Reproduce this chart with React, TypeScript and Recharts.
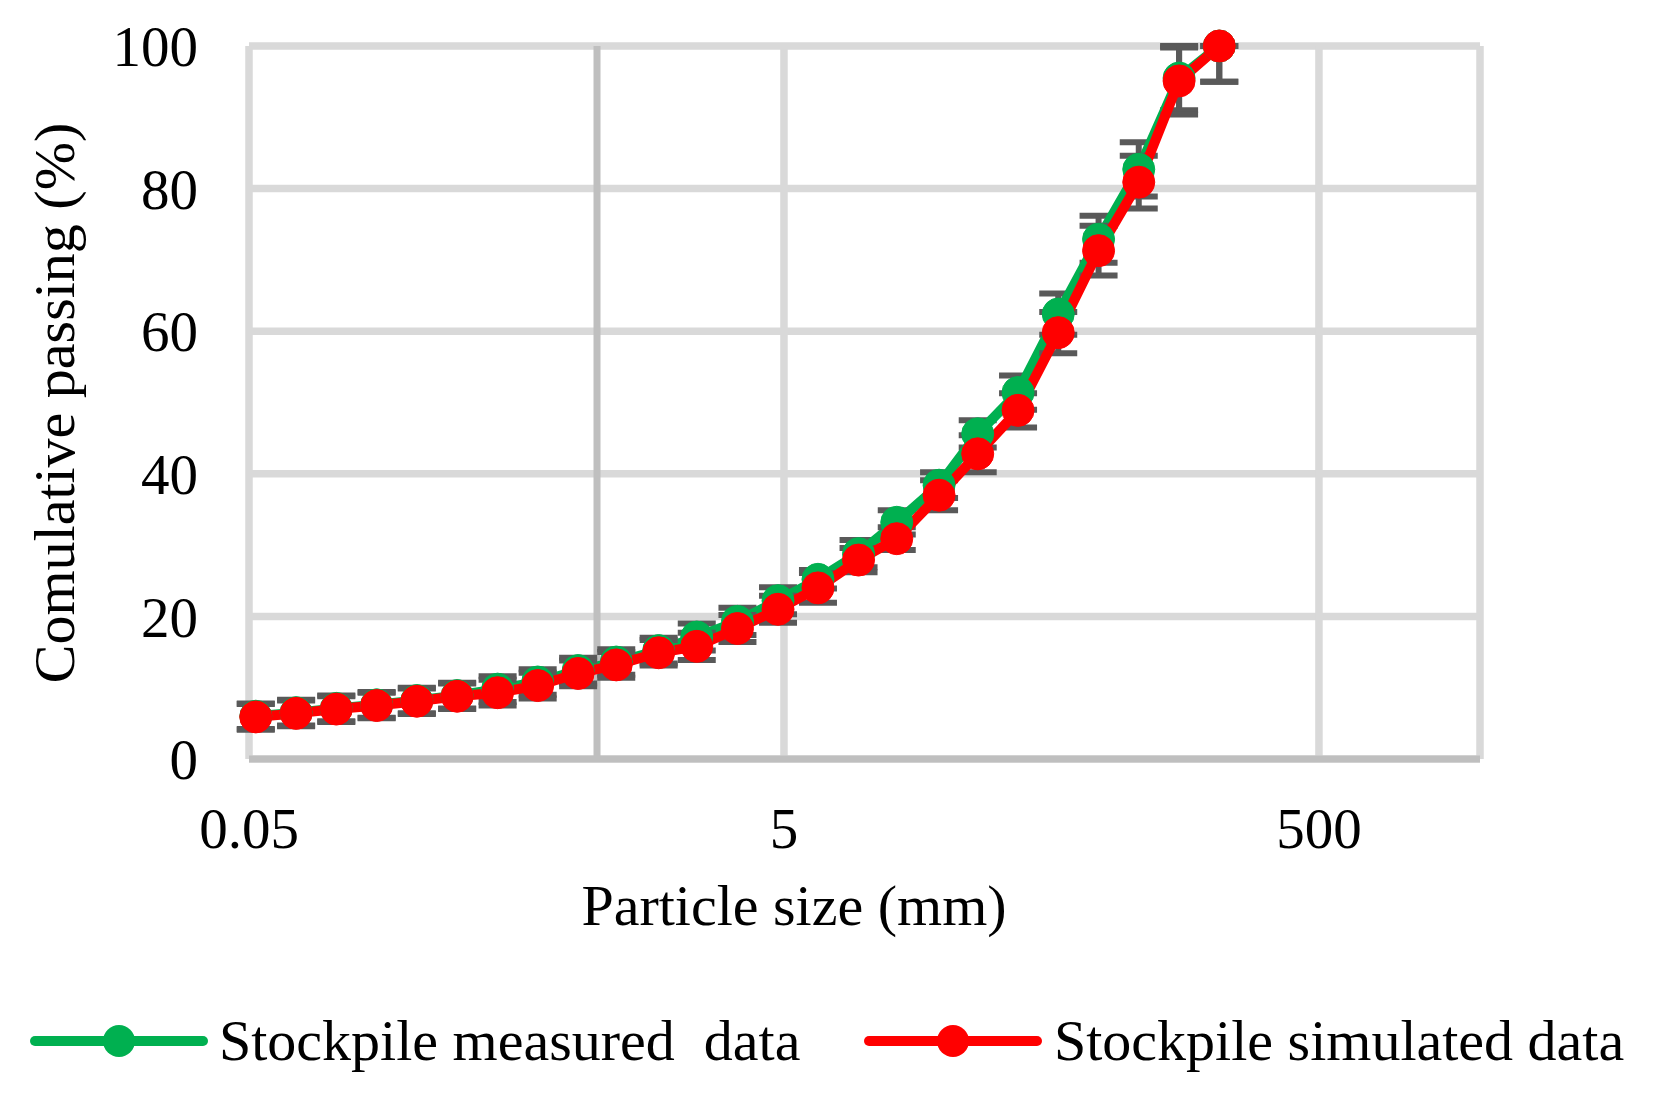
import * as React from "react";
import {
  LineChart,
  Line,
  XAxis,
  YAxis,
  CartesianGrid,
  ReferenceLine,
  ErrorBar,
  Legend,
  Label,
} from "recharts";

// sieve sizes (mm)
const sizes = [
  0.053, 0.075, 0.106, 0.15, 0.212, 0.3, 0.425, 0.6, 0.85, 1.18, 1.7, 2.36,
  3.35, 4.75, 6.7, 9.5, 13.2, 19, 26.5, 37.5, 53, 75, 106, 150, 212,
];

// cumulative passing (%)
const measured = [
  6.0, 6.5, 7.1, 7.6, 8.2, 8.9, 9.8, 10.8, 12.4, 13.6, 15.2, 17.1, 19.3, 22.2,
  25.2, 28.8, 33.2, 38.4, 45.6, 51.4, 62.4, 72.9, 82.7, 95.5, 100,
];
const simulated = [
  5.9, 6.4, 7.0, 7.5, 8.1, 8.8, 9.3, 10.3, 12.0, 13.2, 14.9, 15.8, 18.3, 21.0,
  24.0, 27.9, 30.9, 37.0, 42.8, 48.9, 59.8, 71.3, 80.9, 95.1, 100,
];

// error bars [minus, plus] -- the plus side of the 100 % point is cut off by the plot top
const errMeasured = [
  [1.8, 1.8], [1.8, 1.8], [1.8, 1.8], [1.8, 1.8], [1.8, 1.8], [1.8, 1.8],
  [1.8, 1.8], [1.8, 1.8], [1.8, 1.8], [1.8, 1.8], [1.8, 1.8], [1.9, 1.9],
  [1.9, 1.9], [1.9, 1.9], [1.3, 1.3], [1.9, 1.9], [1.7, 1.7], [1.8, 1.8],
  [1.9, 1.9], [2.4, 2.4], [2.9, 2.9], [3.3, 3.3], [3.8, 3.8], [4.5, 4.5],
  [5.0, 0],
];
const errSimulated = [
  [1.8, 1.8], [1.8, 1.8], [1.8, 1.8], [1.8, 1.8], [1.8, 1.8], [1.8, 1.8],
  [1.8, 1.8], [1.8, 1.8], [1.8, 1.8], [1.8, 1.8], [1.8, 1.8], [1.9, 1.9],
  [1.9, 1.9], [1.9, 1.9], [2.1, 2.1], [1.7, 1.7], [1.6, 1.6], [2.1, 2.1],
  [2.6, 2.6], [2.4, 2.4], [2.9, 2.9], [3.5, 3.5], [3.7, 3.7], [4.7, 4.7],
  [5.0, 0],
];

const xTicks = [0.05, 5, 500];
const yTicks = [0, 20, 40, 60, 80, 100];

const FONT = "'Liberation Serif', 'Times New Roman', serif";
const GREEN = "#00B050";
const RED = "#FF0000";

const data = sizes.map((s, i) => ({
  size: s,
  measured: measured[i],
  simulated: simulated[i],
  errM: errMeasured[i],
  errS: errSimulated[i],
}));

const legendLineX = [35, 869];
const legendTextX = [219, 1054];

function LegendBox(props: any) {
  const payload = props.payload || [];
  return (
    <svg width={1653} height={80} style={{ display: "block" }}>
      {payload.map((p: any, i: number) => {
        const x0 = legendLineX[i];
        return (
          <g key={i}>
            <line
              x1={x0}
              y1={40}
              x2={x0 + 168}
              y2={40}
              stroke={p.color}
              strokeWidth={10}
              strokeLinecap="round"
            />
            <circle cx={x0 + 84} cy={40} r={16} fill={p.color} />
            <text
              x={legendTextX[i]}
              y={59}
              fontFamily={FONT}
              fontSize={58}
              fill="#000"
            >
              {p.value}
            </text>
          </g>
        );
      })}
    </svg>
  );
}

export default function App() {
  return (
    <div style={{ position: "absolute", left: 0, top: 0, width: 1653, height: 1109, background: "#fff" }}>
      <LineChart
        width={1653}
        height={1109}
        data={data}
        margin={{ top: 46, right: 173, bottom: 28, left: 0 }}
      >
        <CartesianGrid stroke="#D9D9D9" strokeWidth={7.5} />
        <XAxis
          type="number"
          dataKey="size"
          scale="log"
          domain={[0.05, 2000]}
          ticks={xTicks}
          height={242}
          axisLine={{ stroke: "#BFBFBF", strokeWidth: 7 }}
          tickLine={false}
          tickMargin={43}
          tick={{ fontFamily: FONT, fontSize: 57, fill: "#000" }}
        >
          <Label
            content={() => (
              <text x={794} y={925} textAnchor="middle" fontFamily={FONT} fontSize={58} fill="#000">
                Particle size (mm)
              </text>
            )}
          />
        </XAxis>
        <YAxis
          type="number"
          domain={[0, 100]}
          ticks={yTicks}
          width={249}
          axisLine={false}
          tickLine={false}
          tickMargin={45}
          tick={{ fontFamily: FONT, fontSize: 57, fill: "#000" }}
        >
          <Label
            content={() => (
              <text
                x={74}
                y={403}
                transform="rotate(-90, 74, 403)"
                textAnchor="middle"
                fontFamily={FONT}
                fontSize={58}
                fill="#000"
              >
                Comulative passing (%)
              </text>
            )}
          />
        </YAxis>
        <ReferenceLine x={1} stroke="#BFBFBF" strokeWidth={7} />
        <Legend
          verticalAlign="bottom"
          content={<LegendBox />}
          wrapperStyle={{ left: 0, width: 1653, height: 80 }}
        />
        <Line
          type="linear"
          dataKey="measured"
          name={"Stockpile measured\u00A0 data"}
          stroke={GREEN}
          strokeWidth={10}
          strokeLinejoin="round"
          dot={{ r: 16, fill: GREEN, stroke: GREEN, strokeWidth: 1 }}
          activeDot={false}
          isAnimationActive={false}
        >
          <ErrorBar dataKey="errM" direction="y" width={19} strokeWidth={6} stroke="#595959" isAnimationActive={false} />
        </Line>
        <Line
          type="linear"
          dataKey="simulated"
          name="Stockpile simulated data"
          stroke={RED}
          strokeWidth={10}
          strokeLinejoin="round"
          dot={{ r: 16, fill: RED, stroke: RED, strokeWidth: 1 }}
          activeDot={false}
          isAnimationActive={false}
        >
          <ErrorBar dataKey="errS" direction="y" width={19} strokeWidth={6} stroke="#595959" isAnimationActive={false} />
        </Line>
      </LineChart>
    </div>
  );
}
